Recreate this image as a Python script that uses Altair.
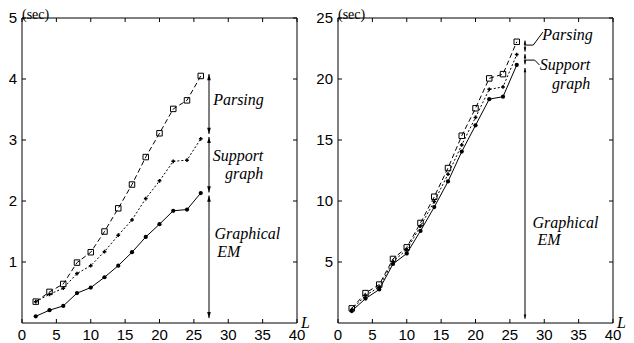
import altair as alt
import pandas as pd

# ---------------- data ----------------
L = [2, 4, 6, 8, 10, 12, 14, 16, 18, 20, 22, 24, 26]

left_parsing = [0.35, 0.51, 0.64, 0.99, 1.16, 1.50, 1.88, 2.27, 2.72, 3.11, 3.51, 3.65, 4.05]
left_support = [0.35, 0.47, 0.57, 0.81, 0.94, 1.17, 1.44, 1.69, 2.04, 2.33, 2.65, 2.67, 3.02]
left_em = [0.11, 0.21, 0.28, 0.49, 0.58, 0.75, 0.94, 1.16, 1.41, 1.62, 1.84, 1.86, 2.13]

right_parsing = [1.2, 2.45, 3.15, 5.25, 6.2, 8.2, 10.35, 12.7, 15.35, 17.6, 20.05, 20.4, 23.05]
right_support = [1.1, 2.25, 2.95, 5.05, 6.0, 7.95, 9.95, 12.2, 14.6, 16.85, 19.15, 19.35, 22.0]
right_em = [0.98, 2.0, 2.75, 4.84, 5.7, 7.55, 9.5, 11.6, 14.05, 16.2, 18.35, 18.55, 21.15]

x_ticks = [0, 5, 10, 15, 20, 25, 30, 35, 40]
left_y_ticks = [1, 2, 3, 4, 5]
right_y_ticks = [5, 10, 15, 20, 25]

# arrow segments (x position, lower end, upper end)
arrow_x = 27.2
left_arrow_lo = [3.10, 2.14, 0.08]
left_arrow_hi = [4.08, 3.05, 2.09]
right_arrow_lo = [22.25, 21.2, 0.35]
right_arrow_hi = [23.15, 22.05, 20.9]

# text annotations
left_text_left = ["Parsing", "Graphical", "EM"]
left_text_left_x = [27.8, 28.0, 28.4]
left_text_left_y = [3.57, 1.385, 1.09]
left_text_right = ["Support", "graph"]
left_text_right_x = [35.1, 35.1]
left_text_right_y = [2.66, 2.36]

right_text_left = ["Parsing", "Graphical", "EM"]
right_text_left_x = [29.7, 28.3, 29.0]
right_text_left_y = [23.2, 7.8, 6.4]
right_text_right = ["Support", "graph"]
right_text_right_x = [36.7, 36.7]
right_text_right_y = [20.7, 19.2]

# leader lines of the right panel
leader_group = ["p", "p", "p", "s", "s", "s"]
leader_x = [27.3, 28.4, 29.8, 27.3, 28.6, 29.3]
leader_y = [22.78, 22.78, 23.84, 21.55, 21.55, 21.15]

y_unit = "(sec)"
x_name = "L"

W, H = 275, 305
SERIF = "Liberation Serif"
SANS = "Liberation Sans"
UP = "M0,0L0.3,1L-0.3,1Z"
DOWN = "M0,0L0.3,-1L-0.3,-1Z"
TICK = 4


def panel(parsing, support, em, ymax, yticks, lo, hi,
          tl, tlx, tly, tr, trx, tr_y, leaders=None, head=150):
    df = pd.DataFrame({"L": L, "Parsing": parsing, "Support": support, "EM": em})
    xs = alt.Scale(domain=[0, 40], nice=False, zero=True)
    ys = alt.Scale(domain=[0, ymax], nice=False, zero=True)

    def X(field):
        return alt.X(field, scale=xs, axis=None)

    def Y(field):
        return alt.Y(field, scale=ys, axis=None)

    base = alt.Chart(df)

    # frame of the plot area, spanning the full scale domains
    fdf = pd.DataFrame({"x0": [0], "x1": [40], "y0": [0], "y1": [ymax]})
    frame = alt.Chart(fdf).mark_rect(filled=False, stroke="black", strokeWidth=1,
                                     fill=None).encode(
        x=X("x0:Q"), x2="x1:Q", y=Y("y0:Q"), y2="y1:Q")

    # inward tick marks on all four sides
    xdf = pd.DataFrame({"v": x_ticks, "s": [str(v) for v in x_ticks]})
    ydf = pd.DataFrame({"v": yticks, "s": [str(v) for v in yticks]})
    xt = alt.Chart(xdf)
    yt = alt.Chart(ydf)
    tb = xt.mark_rule(color="black", strokeWidth=1).encode(
        x=X("v:Q"), y=alt.value(H), y2=alt.value(H - TICK))
    tt = xt.mark_rule(color="black", strokeWidth=1).encode(
        x=X("v:Q"), y=alt.value(0), y2=alt.value(TICK))
    tlft = yt.mark_rule(color="black", strokeWidth=1).encode(
        y=Y("v:Q"), x=alt.value(0), x2=alt.value(TICK))
    trgt = yt.mark_rule(color="black", strokeWidth=1).encode(
        y=Y("v:Q"), x=alt.value(W), x2=alt.value(W - TICK))

    # tick labels and axis names as text marks
    xlab = xt.mark_text(align="center", baseline="top", font=SANS, fontSize=15,
                        color="black").encode(x=X("v:Q"), y=alt.value(H + 5), text="s:N")
    ylab = yt.mark_text(align="right", baseline="middle", font=SANS, fontSize=15,
                        color="black").encode(y=Y("v:Q"), x=alt.value(-5), text="s:N")
    unit = alt.Chart(pd.DataFrame({"t": [y_unit]})).mark_text(
        align="left", baseline="alphabetic", font=SERIF, fontSize=14, color="black").encode(
        x=alt.value(0), y=alt.value(1), text="t:N")
    xname = alt.Chart(pd.DataFrame({"t": [x_name]})).mark_text(
        align="left", baseline="alphabetic", font=SERIF, fontStyle="italic", fontSize=16,
        color="black").encode(x=alt.value(W + 4), y=alt.value(H + 5), text="t:N")

    parsing_line = base.mark_line(color="black", strokeWidth=1, strokeDash=[5, 3]).encode(
        x=X("L:Q"), y=Y("Parsing:Q"))
    support_line = base.mark_line(color="black", strokeWidth=1, strokeDash=[2, 2]).encode(
        x=X("L:Q"), y=Y("Support:Q"))
    em_line = base.mark_line(color="black", strokeWidth=1).encode(
        x=X("L:Q"), y=Y("EM:Q"))

    parsing_pts = base.mark_point(shape="square", filled=False, size=30, color="black",
                                  strokeWidth=1, opacity=1).encode(
        x=X("L:Q"), y=Y("Parsing:Q"))
    support_pts = base.mark_point(shape="cross", filled=True, size=14, color="black",
                                  opacity=1).encode(
        x=X("L:Q"), y=Y("Support:Q"))
    em_pts = base.mark_point(shape="circle", filled=True, size=18, color="black",
                             opacity=1).encode(
        x=X("L:Q"), y=Y("EM:Q"))

    adf = pd.DataFrame({"x": [arrow_x] * len(lo), "lo": lo, "hi": hi})
    ab = alt.Chart(adf)
    rules = ab.mark_rule(color="black", strokeWidth=1).encode(
        x=X("x:Q"), y=Y("lo:Q"), y2="hi:Q")
    up = ab.mark_point(shape=UP, filled=True, size=head, color="black", opacity=1,
                       strokeWidth=0).encode(x=X("x:Q"), y=Y("hi:Q"))
    down = ab.mark_point(shape=DOWN, filled=True, size=head, color="black", opacity=1,
                         strokeWidth=0).encode(x=X("x:Q"), y=Y("lo:Q"))

    tldf = pd.DataFrame({"x": tlx, "y": tly, "t": tl})
    trdf = pd.DataFrame({"x": trx, "y": tr_y, "t": tr})
    txt_l = alt.Chart(tldf).mark_text(align="left", baseline="alphabetic", font=SERIF,
                                      fontStyle="italic", fontSize=16, color="black").encode(
        x=X("x:Q"), y=Y("y:Q"), text="t:N")
    txt_r = alt.Chart(trdf).mark_text(align="right", baseline="alphabetic", font=SERIF,
                                      fontStyle="italic", fontSize=16, color="black").encode(
        x=X("x:Q"), y=Y("y:Q"), text="t:N")

    layers = [frame, tb, tt, tlft, trgt, xlab, ylab, unit, xname,
              parsing_line, support_line, em_line,
              parsing_pts, support_pts, em_pts, rules, up, down, txt_l, txt_r]
    if leaders is not None:
        ldf = pd.DataFrame(leaders)
        ldf["order"] = range(len(ldf))
        layers.append(alt.Chart(ldf).mark_line(color="black", strokeWidth=1).encode(
            x=X("x:Q"), y=Y("y:Q"), detail="g:N", order="order:Q"))

    return alt.layer(*layers).properties(width=W, height=H)


left = panel(left_parsing, left_support, left_em, 5, left_y_ticks,
             left_arrow_lo, left_arrow_hi,
             left_text_left, left_text_left_x, left_text_left_y,
             left_text_right, left_text_right_x, left_text_right_y, head=150)
right = panel(right_parsing, right_support, right_em, 25, right_y_ticks,
              right_arrow_lo, right_arrow_hi,
              right_text_left, right_text_left_x, right_text_left_y,
              right_text_right, right_text_right_x, right_text_right_y,
              leaders={"g": leader_group, "x": leader_x, "y": leader_y}, head=70)

chart = alt.hconcat(left, right, spacing=6).properties(
    padding=0, background="white").configure_view(strokeWidth=0)

chart.save("out.html", embed_options={"renderer": "svg", "actions": False})
